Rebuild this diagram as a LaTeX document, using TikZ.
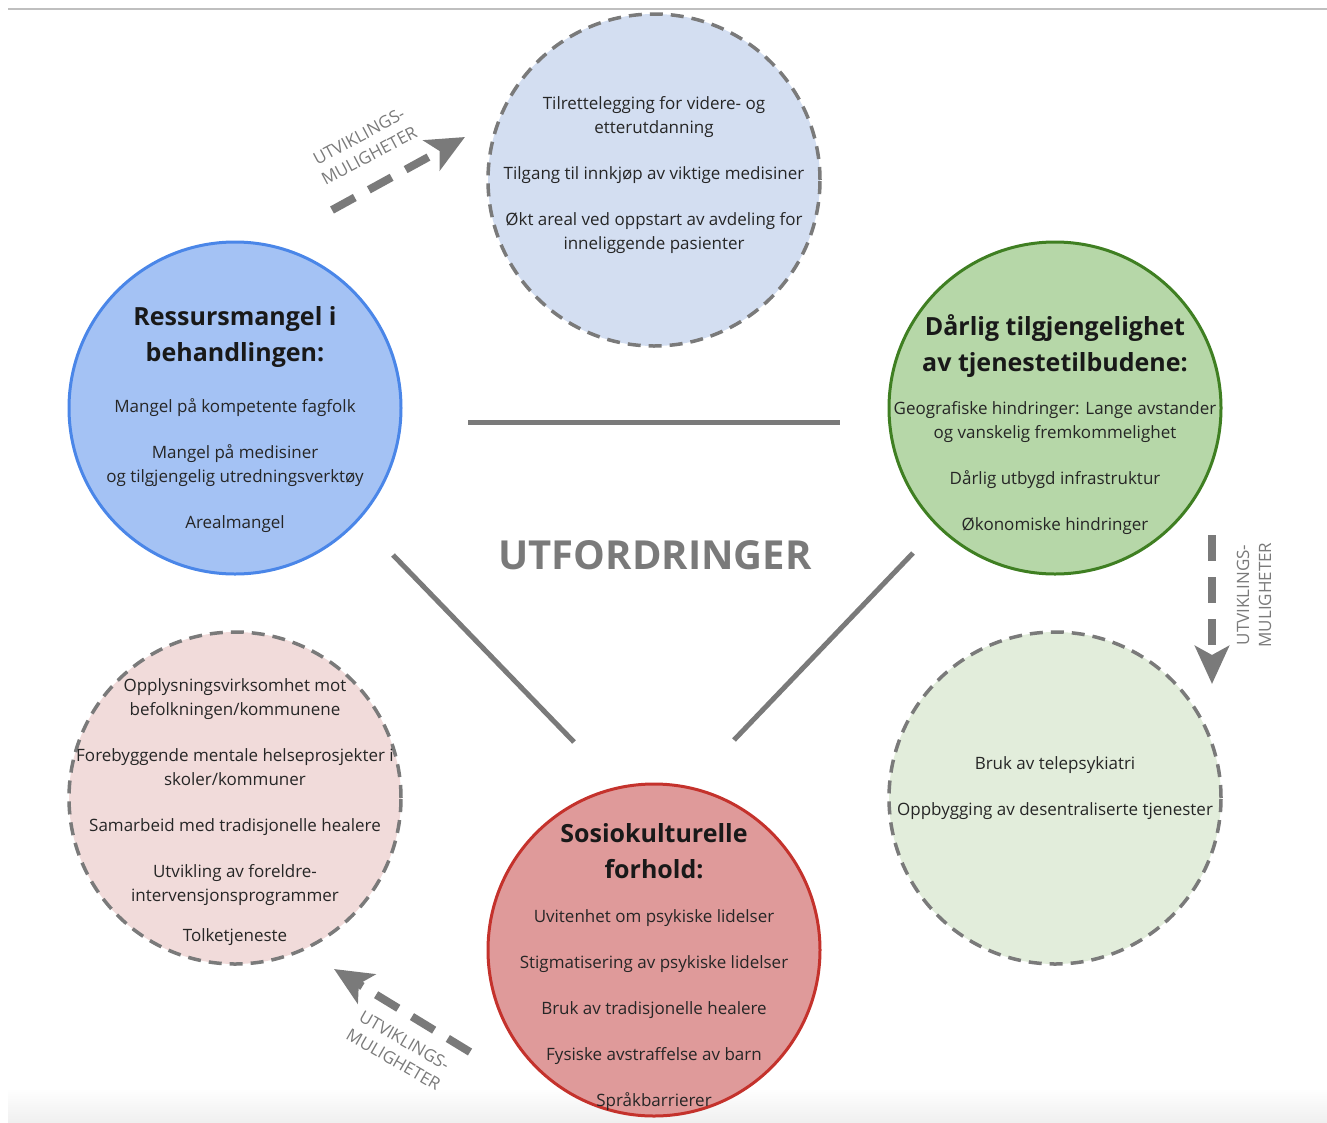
\documentclass[tikz,border=0pt]{standalone}
\usepackage{fontspec}
\setmainfont{Open Sans}
\usetikzlibrary{arrows.meta}
\definecolor{lineGray}{HTML}{7A7A7A}
\definecolor{lightBlue}{HTML}{D3DEF1}
\definecolor{midBlue}{HTML}{A4C2F4}
\definecolor{edgeBlue}{HTML}{4A86E8}
\definecolor{midGreen}{HTML}{B6D7A8}
\definecolor{edgeGreen}{HTML}{3F7F22}
\definecolor{lightGreen}{HTML}{E2EDDB}
\definecolor{midRed}{HTML}{DF9A9A}
\definecolor{edgeRed}{HTML}{C4322C}
\definecolor{lightRed}{HTML}{F1DBDA}
\tikzstyle{bubble} = [circle, minimum size=332pt, inner sep=0pt, line width=3pt]
\tikzstyle{option} = [bubble, draw=lineGray, dash pattern=on 13pt off 8pt, line width=3.5pt]
\tikzstyle{head} = [align=center, font=\fontsize{25}{36}\bfseries\selectfont, text=black!90]
\tikzstyle{body} = [align=center, font=\fontsize{17}{24}\selectfont, text=black!85]
\tikzstyle{link} = [draw=lineGray, line width=5pt]
\tikzstyle{devarrow} = [draw=lineGray, line width=8pt, dash pattern=on 26pt off 16pt,
    -{Stealth[length=38pt,width=34pt,inset=9pt,fill=lineGray]}]
\tikzstyle{devtext} = [align=center, text=lineGray, font=\fontsize{17}{22}\selectfont]

\begin{document}
\begin{tikzpicture}[x=1pt,y=-1pt]
  \useasboundingbox (0,0) rectangle (1327,1122);
  \shade[top color=white, bottom color=black!6] (8,1088) rectangle (1327,1122);
  \draw[black!25, line width=1.5pt] (8,9) -- (1327,9);

  % circles
  \node[option, fill=lightBlue]                          (tilr) at (654,180) {};
  \node[bubble, draw=edgeBlue, fill=midBlue]             (ress) at (235,408) {};
  \node[bubble, draw=edgeGreen, fill=midGreen]           (darl) at (1055,408) {};
  \node[option, fill=lightGreen]                         (tele) at (1055,798) {};
  \node[bubble, draw=edgeRed, fill=midRed]               (sosi) at (654,950) {};
  \node[option, fill=lightRed]                           (oppl) at (235,798) {};

  % texts
  \node[body] (tilrtxt) at (654,175) {Tilrettelegging for videre- og\\ etterutdanning\\[22pt]
    Tilgang til innkjøp av viktige medisiner\\[22pt]
    Økt areal ved oppstart av avdeling for\\ inneliggende pasienter};
  \node[head] (resshead) at (235,337) {Ressursmangel i\\ behandlingen:};
  \node[body] (resstxt) at (235,466) {Mangel på kompetente fagfolk\\[22pt]
    Mangel på medisiner\\ og tilgjengelig utredningsverktøy\\[22pt]
    Arealmangel};
  \node[head] (darlhead) at (1055,346) {Dårlig tilgjengelighet\\ av tjenestetilbudene:};
  \node[body] (darltxt) at (1055,468) {Geografiske hindringer: Lange avstander\\ og vanskelig fremkommelighet\\[22pt]
    Dårlig utbygd infrastruktur\\[22pt]
    Økonomiske hindringer};
  \node[body] (teletxt) at (1055,788) {Bruk av telepsykiatri\\[22pt]
    Oppbygging av desentraliserte tjenester};
  \node[head] (sosihead) at (654,851) {Sosiokulturelle\\ forhold:};
  \node[body] (sositxt) at (654,1010) {Uvitenhet om psykiske lidelser\\[22pt]
    Stigmatisering av psykiske lidelser\\[22pt]
    Bruk av tradisjonelle healere\\[22pt]
    Fysiske avstraffelse av barn\\[22pt]
    Språkbarrierer};
  \node[body] (oppltxt) at (235,812) {Opplysningsvirksomhet mot\\ befolkningen/kommunene\\[22pt]
    Forebyggende mentale helseprosjekter i\\ skoler/kommuner\\[22pt]
    Samarbeid med tradisjonelle healere\\[22pt]
    Utvikling av foreldre-\\ intervensjonsprogrammer\\[16pt]
    Tolketjeneste};

  \node[text=lineGray, font=\fontsize{40}{42}\bfseries\selectfont] (utf) at (655,555) {UTFORDRINGER};

  % connecting lines
  \coordinate (hl) at (468,422);  \coordinate (hr) at (840,422);
  \coordinate (dl1) at (393,555); \coordinate (dl2) at (574,742);
  \coordinate (dr1) at (913,553); \coordinate (dr2) at (734,740);
  \draw[link] (hl) -- (hr);
  \draw[link] (dl1) -- (dl2);
  \draw[link] (dr1) -- (dr2);

  % development arrows
  \coordinate (a1s) at (332,210); \coordinate (a1e) at (465,137);
  \coordinate (a2s) at (1212,535); \coordinate (a2e) at (1212,684);
  \coordinate (a3s) at (470,1052); \coordinate (a3e) at (334,969);
  \draw[devarrow] (a1s) -- (a1e);
  \draw[devarrow] (a2s) -- (a2e);
  \draw[devarrow] (a3s) -- (a3e);
  \node[devtext, rotate=28]  (a1txt) at (364,146)  {UTVIKLINGS-\\ MULIGHETER};
  \node[devtext, rotate=90]  (a2txt) at (1254,595) {UTVIKLINGS-\\ MULIGHETER};
  \node[devtext, rotate=-30] (a3txt) at (399,1050) {UTVIKLINGS-\\ MULIGHETER};
\end{tikzpicture}
\end{document}
